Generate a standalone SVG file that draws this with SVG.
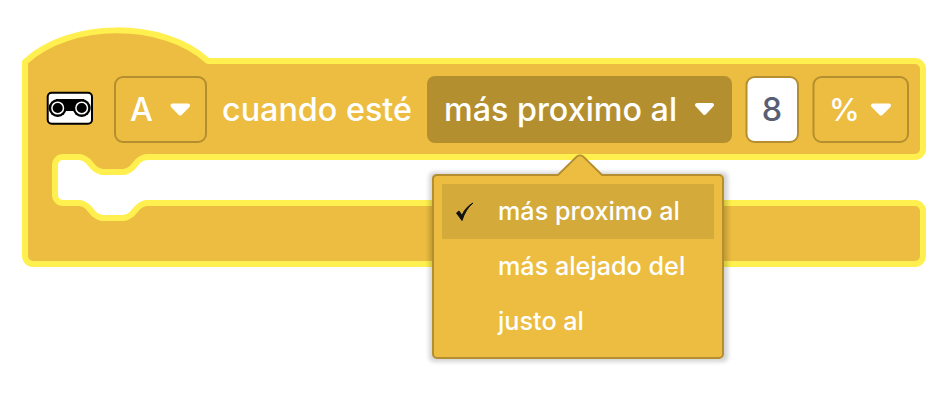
<svg xmlns="http://www.w3.org/2000/svg" width="946" height="400" viewBox="0 0 946 400">
<style>
text{font-family:"Inter","Noto Sans",sans-serif;fill:#fff;font-weight:500}
.f{font-size:32.3px}
.m{font-size:25.2px}
.field{fill:#ecbd41;stroke:#b58f2f;stroke-width:2}
.arrow{fill:#fff;stroke:#fff;stroke-width:4;stroke-linejoin:round}
</style>
<defs><filter id="sh" x="-10%" y="-10%" width="120%" height="120%"><feGaussianBlur stdDeviation="2"/></filter></defs>
<rect width="946" height="400" fill="#fff"/>
<g id="block"><path d="M25,62 c45,-42 138,-42 183,-1 H915 a8,8 0 0 1 8,8 V149 a8,8 0 0 1 -8,8 H147 c-4,0 -6,1.500 -9,4 l-6,7 c-3,2.500 -5,4 -9,4 h-20 c-4,0 -6,-1.500 -9,-4 l-6,-7 c-3,-2.500 -5,-4 -9,-4 H63 a8,8 0 0 0 -8,8 V195 a8,8 0 0 0 8,8 H79 c4,0 6,1.500 9,4 l6,7 c3,2.500 5,4 9,4 h20 c4,0 6,-1.500 9,-4 l6,-7 c3,-2.500 5,-4 9,-4 H915 a8,8 0 0 1 8,8 V256 a8,8 0 0 1 -8,8 H33 a8,8 0 0 1 -8,-8 Z" fill="#ecbd41" stroke="#fff04f" stroke-width="6" stroke-linejoin="round"/></g>
<g id="icon"><rect x="47.700" y="92.700" width="44.300" height="31" rx="4" fill="#fff" stroke="#000" stroke-width="2"/><rect x="56" y="99" width="28" height="12" fill="#000"/><circle cx="57.700" cy="108" r="9" fill="#000"/><circle cx="81.700" cy="108" r="9" fill="#000"/><circle cx="57.700" cy="108" r="5.800" fill="#000" stroke="#fff" stroke-width="1.500"/><circle cx="81.700" cy="108" r="5.800" fill="#000" stroke="#fff" stroke-width="1.500"/></g>
<g id="field-a"><rect class="field" x="115" y="77" width="91" height="65" rx="8"/><text class="f" x="130" y="121">A</text><path class="arrow" d="M172.500,105.500 H188 L180.200,113.500 Z"/></g>
<text id="label" class="f" x="222" y="121">cuando esté</text>
<g id="field-dist"><rect x="427" y="76" width="305" height="67" rx="8" fill="#b48f2f"/><text class="f" x="444" y="121">más proximo al</text><path class="arrow" d="M697,105 H712 L704.500,113 Z"/></g>
<g id="field-8"><rect x="746.500" y="77" width="51.500" height="65" rx="8" fill="#fff" stroke="#b58f2f" stroke-width="2"/><text class="f" x="772" y="121" text-anchor="middle" style="fill:#575e75">8</text></g>
<g id="field-pct"><rect class="field" x="813.500" y="77" width="94.500" height="65" rx="8"/><text class="f" x="829" y="121" style="font-size:31px">%</text><path class="arrow" d="M873,105.500 H889 L881,113.500 Z"/></g>
<g id="menu">
<rect x="429" y="172" width="299" height="190" rx="5" fill="#000" opacity=".17" filter="url(#sh)"/>
<path d="M436,175 H558 L577,156.500 Q580,154.500 583,156.500 L602,175 H719 a4,4 0 0 1 4,4 V354 a4,4 0 0 1 -4,4 H437 a4,4 0 0 1 -4,-4 V179 a4,4 0 0 1 3,-4 Z" fill="#ecbd41" stroke="#b58f2f" stroke-width="2" stroke-linejoin="round"/>
<path d="M559,176 L578,157 Q580,155.500 582,157 L601,176 Z" fill="#ecbd41"/>
<rect x="442" y="184" width="272" height="55" fill="#d4aa3a"/>
<path d="M456.500,213 L462,220.500 Q465.500,209 473,203 Q465,207.500 462,215.500 L459,211 Z" fill="#111" stroke="#111" stroke-width="1"/>
<text class="m" x="498" y="220">más proximo al</text>
<text class="m" x="498" y="275">más alejado del</text>
<text class="m" x="498" y="330">justo al</text>
</g>
</svg>
